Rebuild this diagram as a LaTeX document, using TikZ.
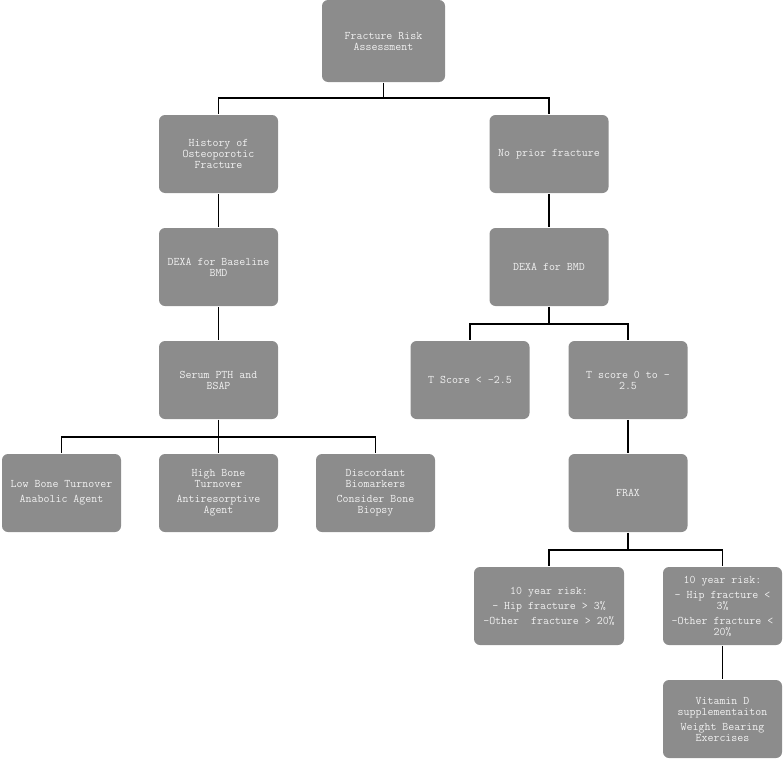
\documentclass[tikz,border=0pt]{standalone}
\usepackage{fontspec}
\usetikzlibrary{positioning, calc}
\definecolor{boxgray}{RGB}{140,140,140}
\definecolor{boxtext}{RGB}{240,240,240}

\begin{document}
\begin{tikzpicture}[x=1pt, y=-1pt, line width=1.5pt,
  box/.style={draw=none, fill=boxgray, rounded corners=6pt, minimum width=119pt, minimum height=78pt,
    inner sep=2pt, align=center, text=boxtext, font=\ttfamily\fontsize{11.6}{11}\selectfont},
  link/.style={draw=black, line width=1.6pt}]
  \useasboundingbox (0,0) rectangle (784,760);
  % top level
  \node[box, minimum width=123pt, minimum height=82pt] (root) at (383.5,41) {Fracture Risk\\Assessment};
  \node[box] (hist) at (218.5,154) {History of\\Osteoporotic\\Fracture};
  \node[box] (noprior) at (549,154) {No prior fracture};
  % left branch
  \node[box] (dexab) at (218.5,267) {DEXA for Baseline\\BMD};
  \node[box] (serum) at (218.5,380) {Serum PTH and\\BSAP};
  \node[box] (low) at (61.5,493) {Low Bone Turnover\\[4pt]Anabolic Agent};
  \node[box] (high) at (218.5,493) {High Bone\\Turnover\\[4pt]Antiresorptive\\Agent};
  \node[box] (disc) at (375.5,493) {Discordant\\Biomarkers\\[4pt]Consider Bone\\Biopsy};
  % right branch
  \node[box] (dexa) at (549,267) {DEXA for BMD};
  \node[box] (tlow) at (470,380) {T Score < -2.5};
  \node[box] (tmid) at (628,380) {T score 0 to -\\2.5};
  \node[box] (frax) at (628,493) {FRAX};
  \node[box, minimum width=150pt] (riskhi) at (549,606) {10 year risk:\\[4pt]- Hip fracture > 3\%\\[4pt]-Other\ \ fracture > 20\%};
  \node[box] (risklo) at (722.5,606) {10 year risk:\\[4pt]- Hip fracture <\\3\%\\[4pt]-Other fracture <\\20\%};
  \node[box] (vitd) at (722.5,719) {Vitamin D\\supplementaiton\\[4pt]Weight Bearing\\Exercises};

  \draw[link] (root.south) -- ++(0,15) -| (hist.north);
  \draw[link] (root.south) -- ++(0,15) -| (noprior.north);
  \draw[link] (hist) -- (dexab);
  \draw[link] (dexab) -- (serum);
  \draw[link] (serum.south) -- ++(0,17) -| (low.north);
  \draw[link] (serum) -- (high);
  \draw[link] (serum.south) -- ++(0,17) -| (disc.north);
  \draw[link] (noprior) -- (dexa);
  \draw[link] (dexa.south) -- ++(0,17) -| (tlow.north);
  \draw[link] (dexa.south) -- ++(0,17) -| (tmid.north);
  \draw[link] (tmid) -- (frax);
  \draw[link] (frax.south) -- ++(0,17) -| (riskhi.north);
  \draw[link] (frax.south) -- ++(0,17) -| (risklo.north);
  \draw[link] (risklo) -- (vitd);
\end{tikzpicture}
\end{document}
